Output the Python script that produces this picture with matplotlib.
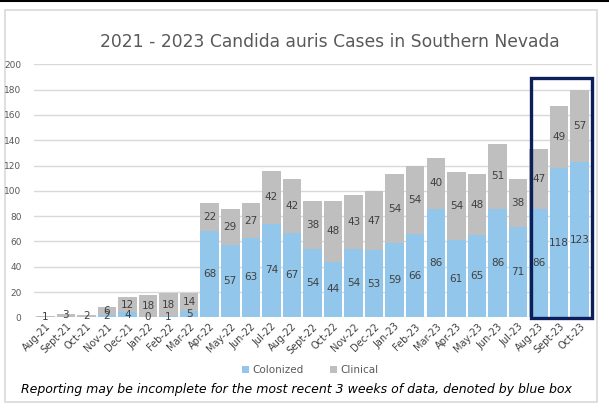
import matplotlib.pyplot as plt
from matplotlib.patches import Rectangle
from matplotlib.lines import Line2D

months = [
    'Aug-21', 'Sept-21', 'Oct-21', 'Nov-21', 'Dec-21', 'Jan-22', 'Feb-22',
    'Mar-22', 'Apr-22', 'May-22', 'Jun-22', 'Jul-22', 'Aug-22', 'Sept-22',
    'Oct-22', 'Nov-22', 'Dec-22', 'Jan-23', 'Feb-23', 'Mar-23', 'Apr-23',
    'May-23', 'Jun-23', 'Jul-23', 'Aug-23', 'Sept-23', 'Oct-23',
]
# None = no colonized count reported for that month
colonized = [None, None, None, 2, 4, 0, 1, 5, 68, 57, 63, 74, 67, 54, 44,
             54, 53, 59, 66, 86, 61, 65, 86, 71, 86, 118, 123]
clinical = [1, 3, 2, 6, 12, 18, 18, 14, 22, 29, 27, 42, 42, 38, 48, 43,
            47, 54, 54, 40, 54, 48, 51, 38, 47, 49, 57]
recent_n = 3  # months highlighted by the blue box

BLUE = '#92c6ea'
GREY = '#bfbfbf'
NAVY = '#0c1f5a'
TXT = '#404040'

plt.rcParams['font.family'] = ['DejaVu Sans']

fig = plt.figure(figsize=(6.09, 4.08), dpi=100)
W, H = 609, 408

# outer frame and the thin dark line at the very top
fig.patches.append(Rectangle((5 / W, 1 - 402 / H), 592 / W, 392 / H,
                             transform=fig.transFigure, facecolor='white',
                             edgecolor='#d9d9d9', linewidth=1.2, zorder=-5))
fig.lines.append(Line2D([0, 1], [1 - 1 / H, 1 - 1 / H], transform=fig.transFigure,
                        color='black', linewidth=1.5))

ax = fig.add_axes([34 / W, 1 - 317.3 / H, (592 - 34) / W, (317.3 - 64.3) / H])
ax.patch.set_alpha(0)

x = list(range(len(months)))
col_vals = [c if c is not None else 0 for c in colonized]
ax.bar(x, col_vals, width=0.9, color=BLUE, label='Colonized', zorder=2)
ax.bar(x, clinical, width=0.9, bottom=col_vals, color=GREY, label='Clinical', zorder=2)

for i in x:
    if colonized[i] is not None:
        ax.text(i, col_vals[i] / 2, str(colonized[i]), ha='center', va='center',
                fontsize=7.5, color=TXT, zorder=3)
    ax.text(i, col_vals[i] + clinical[i] / 2, str(clinical[i]), ha='center',
            va='center', fontsize=7.5, color=TXT, zorder=3)

# highlight box around most recent months
first = len(months) - recent_n
top = max(c + k for c, k in zip(col_vals[first:], clinical[first:])) + 9
ax.add_patch(Rectangle((first - 0.35, -0.6), recent_n - 0.05, top + 0.6,
                       fill=False, edgecolor=NAVY, linewidth=2.4, zorder=4,
                       clip_on=False))

ax.set_xlim(-0.55, len(months) - 0.4)
ax.set_ylim(0, 200)
ax.set_yticks(range(0, 201, 20))
ax.yaxis.grid(True, color='#d9d9d9', linewidth=1.0, zorder=0)
ax.set_axisbelow(True)
for s in ax.spines.values():
    s.set_visible(False)
ax.tick_params(axis='both', length=0, colors='#595959')
ax.tick_params(axis='y', labelsize=6.5, pad=9)
ax.set_xticks(x)
ax.set_xticklabels(months, rotation=45, ha='right', rotation_mode='anchor',
                   fontsize=7, color='#404040')
ax.tick_params(axis='x', pad=3)

fig.text(330 / W, 1 - 42 / H, '2021 - 2023 Candida auris Cases in Southern Nevada',
         ha='center', va='center', fontsize=12.3, color='#595959')

fig.legend(loc='center', bbox_to_anchor=(310 / W, 1 - 370 / H), ncol=2,
           frameon=False, fontsize=7.5, handlelength=0.7, handleheight=0.7,
           handletextpad=0.3, columnspacing=2.5, labelcolor='#595959')

fig.text(296 / W, 1 - 390 / H,
         'Reporting may be incomplete for the most recent 3 weeks of data, '
         'denoted by blue box', ha='center', va='center', fontsize=9,
         style='italic', color='black')

fig.savefig('out.png', dpi=100)
